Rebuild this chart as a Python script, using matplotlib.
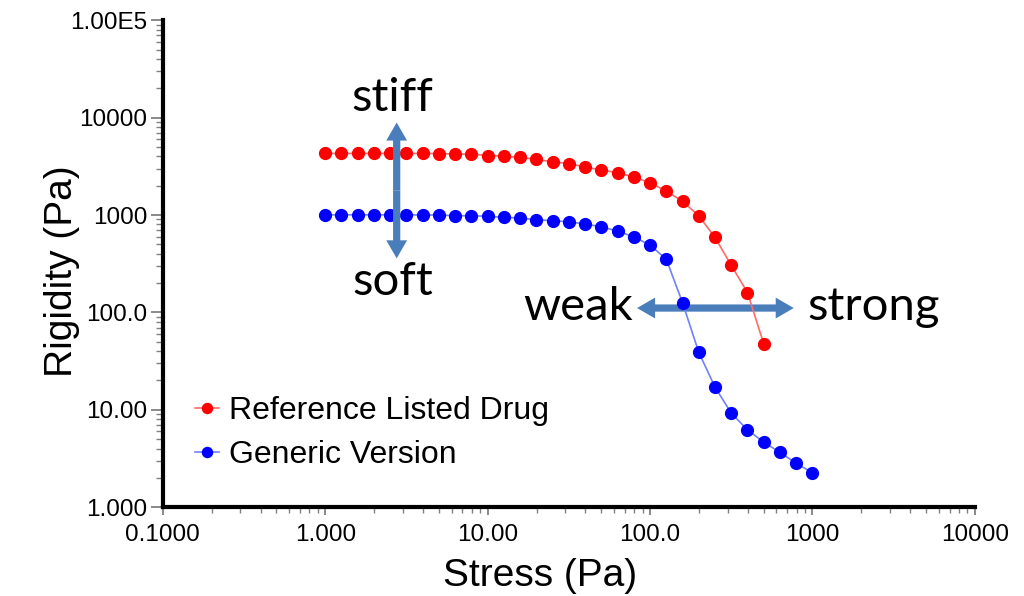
import matplotlib
matplotlib.use('Agg')
import matplotlib.pyplot as plt
import numpy as np

# stress values (Pa), 10 points per decade
stress_rld = [1.0, 1.259, 1.585, 1.995, 2.512, 3.162, 3.981, 5.012, 6.310, 7.943,
              10.0, 12.59, 15.85, 19.95, 25.12, 31.62, 39.81, 50.12, 63.10, 79.43,
              100.0, 125.9, 158.5, 199.5, 251.2, 316.2, 398.1, 501.2]
rigidity_rld = [4290, 4290, 4290, 4290, 4290, 4290, 4290, 4280, 4224, 4220,
                4085, 4028, 3900, 3733, 3519, 3380, 3103, 2912, 2711, 2466,
                2138, 1767, 1383, 984, 589, 305, 160, 47.6]

stress_gen = [1.0, 1.259, 1.585, 1.995, 2.512, 3.162, 3.981, 5.012, 6.310, 7.943,
              10.0, 12.59, 15.85, 19.95, 25.12, 31.62, 39.81, 50.12, 63.10, 79.43,
              100.0, 125.9, 158.5, 199.5, 251.2, 316.2, 398.1, 501.2, 631.0, 794.3,
              1000.0]
rigidity_gen = [1005, 1005, 1005, 1005, 1005, 1005, 1000, 1000, 984, 984,
                970, 947, 931, 895, 875, 853, 808, 758, 684, 597,
                491, 352, 126, 39.0, 17.1, 9.25, 6.22, 4.65, 3.66, 2.82,
                2.26]

xticks = [0.1, 1, 10, 100, 1000, 10000]
xtick_labels = ['0.1000', '1.000', '10.00', '100.0', '1000', '10000']
yticks = [1, 10, 100, 1000, 10000, 100000]
ytick_labels = ['1.000', '10.00', '100.0', '1000', '10000', '1.00E5']

tick_font = ['Liberation Sans', 'DejaVu Sans']
arrow_col = '#4A7EBB'

fig = plt.figure(figsize=(10.24, 5.96), dpi=100)
ax = fig.add_axes([0.159, 0.149, 0.793, 0.817])

l1, = ax.plot(stress_rld, rigidity_rld, '-', color='#FF6A6A', lw=1.2,
              marker='o', ms=8.5, mfc='red', mec='red', zorder=3)
l2, = ax.plot(stress_gen, rigidity_gen, '-', color='#7080FF', lw=1.2,
              marker='o', ms=8.5, mfc='blue', mec='blue', zorder=3)

ax.set_xscale('log')
ax.set_yscale('log')
ax.set_xlim(0.1, 10000)
ax.set_ylim(1, 100000)

ax.set_xticks(xticks)
ax.set_xticklabels(xtick_labels, family=tick_font, fontsize=17.5)
ax.set_yticks(yticks)
ax.set_yticklabels(ytick_labels, family=tick_font, fontsize=17.5)
ax.xaxis.set_minor_locator(matplotlib.ticker.LogLocator(base=10, subs=np.arange(2, 10)))
ax.yaxis.set_minor_locator(matplotlib.ticker.LogLocator(base=10, subs=np.arange(2, 10)))
ax.xaxis.set_minor_formatter(matplotlib.ticker.NullFormatter())
ax.yaxis.set_minor_formatter(matplotlib.ticker.NullFormatter())
ax.tick_params(axis='x', which='major', length=6, width=1.3, color='#808080', pad=6)
ax.tick_params(axis='x', which='minor', length=4, width=1.0, color='#808080')
ax.tick_params(axis='y', which='major', length=9, width=1.3, color='#808080', pad=2)
ax.tick_params(axis='y', which='minor', length=5, width=1.0, color='#808080')

for s in ['top', 'right']:
    ax.spines[s].set_visible(False)
for s in ['left', 'bottom']:
    ax.spines[s].set_linewidth(3)
    ax.spines[s].set_color('black')

ax.set_xlabel('Stress (Pa)', family=['Liberation Sans', 'DejaVu Sans'], fontsize=28)
ax.set_ylabel('Rigidity (Pa)', family=['Liberation Sans', 'DejaVu Sans'], fontsize=28)
ax.xaxis.set_label_coords(0.464, -0.105)
ax.yaxis.set_label_coords(-0.102, 0.485)

# arrows (drawn as two single-headed halves from the middle)
astyle = 'simple,head_length=0.65,head_width=0.75,tail_width=0.26'
vx, vmid = 0.288, 0.65
for yend in (0.790, 0.511):
    ax.annotate('', xy=(vx, yend), xytext=(vx, vmid), xycoords='axes fraction',
                arrowprops=dict(arrowstyle=astyle, mutation_scale=20, color=arrow_col,
                                lw=0, shrinkA=0, shrinkB=0), zorder=4)
hy, hmid = 0.409, 0.68
for xend in (0.584, 0.777):
    ax.annotate('', xy=(xend, hy), xytext=(hmid, hy), xycoords='axes fraction',
                arrowprops=dict(arrowstyle=astyle, mutation_scale=20, color=arrow_col,
                                lw=0, shrinkA=0, shrinkB=0), zorder=2)

word_font = ['Lato', 'DejaVu Sans']
ax.text(0.283, 0.840, 'stiff', transform=ax.transAxes, ha='center', va='center',
        family=word_font, fontsize=34)
ax.text(0.283, 0.462, 'soft', transform=ax.transAxes, ha='center', va='center',
        family=word_font, fontsize=34)
ax.text(0.579, 0.411, 'weak', transform=ax.transAxes, ha='right', va='center',
        family=word_font, fontsize=34)
ax.text(0.794, 0.411, 'strong', transform=ax.transAxes, ha='left', va='center',
        family=word_font, fontsize=34)

leg = ax.legend([l1, l2], ['Reference Listed Drug', 'Generic Version'],
                loc='center left', bbox_to_anchor=(0.04, 0.152), frameon=False,
                prop={'family': ['Liberation Sans', 'DejaVu Sans'], 'size': 23},
                handlelength=0.75, handletextpad=0.3, labelspacing=0.45,
                borderpad=0, borderaxespad=0, markerscale=0.85)

fig.savefig('out.png', dpi=100)
